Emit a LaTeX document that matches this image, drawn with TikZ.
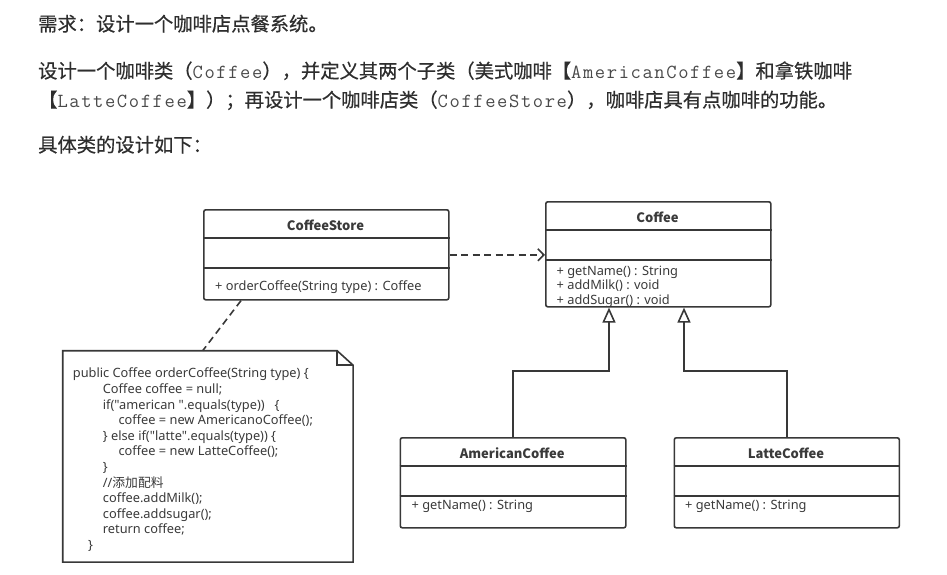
\documentclass[tikz,border=0pt]{standalone}
\usepackage{fontspec}
\setmainfont[FakeBold=0.4]{Noto Sans CJK SC}
\setmonofont[LetterSpace=8]{Latin Modern Mono}
\newfontfamily\dlat{Noto Sans}
\newfontfamily\dcjk{Noto Sans CJK SC}
\usetikzlibrary{arrows.meta}
\definecolor{txt}{HTML}{2E2E2E}
\definecolor{monoc}{HTML}{4A4A4A}
\definecolor{edge}{HTML}{383838}
\definecolor{dtxt}{HTML}{3A3A3A}
\newcommand\hdrfont{\fontsize{19.3}{23}\selectfont}
\newcommand\dfont{\dlat\fontsize{12.8}{15}\selectfont}
\newcommand\tfont{\dcjk\bfseries\fontsize{13}{15}\selectfont}
\newcommand\mc[1]{{\ttfamily\fontsize{20}{23}\selectfont\color{monoc}#1}}
\begin{document}
\begin{tikzpicture}[x=1pt,y=-1pt,
  hdr/.style={anchor=base west, inner sep=0pt, font=\hdrfont, text=txt},
  umlbox/.style={draw=edge, line width=1.6pt, rounded corners=2pt, anchor=north west, inner sep=0pt},
  divl/.style={draw=edge, line width=1.6pt},
  ctitle/.style={anchor=base, inner sep=0pt, font=\tfont, text=dtxt},
  meth/.style={anchor=base west, inner sep=0pt, font=\dfont, text=dtxt},
  notetxt/.style={anchor=base west, inner sep=0pt, font=\dfont, text=dtxt},
  dep/.style={draw=edge, line width=1.6pt, dash pattern=on 7pt off 4.5pt},
  gen/.style={draw=edge, line width=1.6pt, -{Triangle[open, length=15pt, width=13pt]}}
]
\path[fill=white, use as bounding box] (0,0) rectangle (947,574);

% header text
\node[hdr] (h1) at (38,31) {需求：设计一个咖啡店点餐系统。};
\node[hdr] (h2) at (38,78) {设计一个咖啡类（\mc{Coffee}），并定义其两个子类（美式咖啡【\mc{AmericanCoffee}】和拿铁咖啡};
\node[hdr] (h3) at (38,107) {【\mc{LatteCoffee}】）；再设计一个咖啡店类（\mc{CoffeeStore}），咖啡店具有点咖啡的功能。};
\node[hdr] (h4) at (38,152) {具体类的设计如下：};

% class texts
\node[ctitle] (storeT) at (325.5,230) {CoffeeStore};
\node[meth] (storeM) at (215,290) {+ orderCoffee(String type) : Coffee};
\node[ctitle] (coffeeT) at (657.5,222) {Coffee};
\node[meth] (coffeeM1) at (556.5,275) {+ getName() : String};
\node[meth] (coffeeM2) at (556.5,289.5) {+ addMilk() : void};
\node[meth] (coffeeM3) at (556.5,304) {+ addSugar() : void};
\node[ctitle] (amerT) at (512.2,458) {AmericanCoffee};
\node[meth] (amerM) at (411.5,509.5) {+ getName() : String};
\node[ctitle] (latteT) at (786,458) {LatteCoffee};
\node[meth] (latteM) at (685,509.5) {+ getName() : String};

% class boxes
\node[umlbox, minimum width=245pt, minimum height=90pt] (store) at (203,209) {};
\node[umlbox, minimum width=225pt, minimum height=105pt] (coffee) at (545,201) {};
\node[umlbox, minimum width=225.5pt, minimum height=90pt] (amer) at (399.5,437) {};
\node[umlbox, minimum width=225pt, minimum height=90pt] (latte) at (673.5,437) {};

\foreach \b in {store,coffee,amer,latte}{
  \draw[divl] ([yshift=-29pt]\b.north west) -- ([yshift=-29pt]\b.north east);
  \draw[divl] ([yshift=-59pt]\b.north west) -- ([yshift=-59pt]\b.north east);
}

% note
\node[anchor=north west, inner sep=0pt, minimum width=290pt, minimum height=211pt] (note) at (62.7,350.7) {};
\draw[draw=edge, line width=1.6pt] (note.north west) -- ([xshift=-16pt]note.north east)
  -- ([yshift=-14.5pt]note.north east) -- (note.south east) -- (note.south west) -- cycle;
\draw[draw=edge, line width=1.6pt] ([xshift=-16pt]note.north east) -- ([xshift=-16pt,yshift=-14.5pt]note.north east)
  -- ([yshift=-14.5pt]note.north east);

\node[notetxt] (n0) at (72.7,377.8) {public Coffee orderCoffee(String type) \{};
\node[notetxt] (n1) at (102.7,393.4) {Coffee coffee = null;};
\node[notetxt] (n2) at (102.7,409.0) {if("american ".equals(type))\ \ \ \{};
\node[notetxt] (n3) at (118.3,424.6) {coffee = new AmericanoCoffee();};
\node[notetxt] (n4) at (102.7,440.2) {\} else if("latte".equals(type)) \{};
\node[notetxt] (n5) at (118.3,455.8) {coffee = new LatteCoffee();};
\node[notetxt] (n6) at (102.7,471.4) {\}};
\node[notetxt] (n7) at (102.7,487.0) {//{\dcjk 添加配料}};
\node[notetxt] (n8) at (102.7,502.6) {coffee.addMilk();};
\node[notetxt] (n9) at (102.7,518.2) {coffee.addsugar();};
\node[notetxt] (n10) at (102.7,533.8) {return coffee;};
\node[notetxt] (n11) at (88,549.4) {\}};

% connectors
\draw[dep, -{Straight Barb[length=6pt, width=12pt]}] (store.east) -- (store.east -| coffee.west);
\draw[dep] ([xshift=38pt]store.south west) -- ([xshift=140pt]note.north west);
\draw[gen] (amer.north) -- ++(0,-66) -| ([xshift=64pt]coffee.south west);
\draw[gen] (latte.north) -- ++(0,-66) -| ([xshift=139pt]coffee.south west);
\end{tikzpicture}
\end{document}
